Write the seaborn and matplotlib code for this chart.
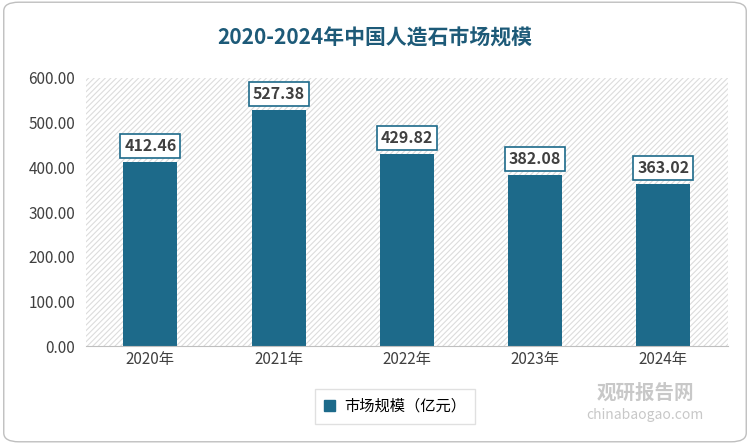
import matplotlib.pyplot as plt
import matplotlib.font_manager as fm
import seaborn as sns
import pandas as pd
from matplotlib.patches import FancyBboxPatch

cjk = [f for f in fm.findSystemFonts() if "CJK" in f or "cjk" in f.lower()]
for f in cjk:
    try:
        fm.fontManager.addfont(f)
    except Exception:
        pass
names = sorted({fm.FontProperties(fname=f).get_name() for f in cjk})
plt.rcParams['font.family'] = 'sans-serif'
plt.rcParams['font.sans-serif'] = ['Noto Sans CJK SC'] + names + ['DejaVu Sans']
plt.rcParams['axes.unicode_minus'] = False
plt.rcParams['hatch.linewidth'] = 0.8

years = ["2020年", "2021年", "2022年", "2023年", "2024年"]
values = [412.46, 527.38, 429.82, 382.08, 363.02]
series_name = "市场规模（亿元）"
bar_color = "#1d6a8a"

df = pd.DataFrame({"year": years, "value": values})

fig = plt.figure(figsize=(7.5, 4.44), dpi=100)
fig.patches.append(FancyBboxPatch((0.005, 0.005), 0.99, 0.99, boxstyle="round,pad=0,rounding_size=0.02",
                                  transform=fig.transFigure, fc="white", ec="#bfbfbf", lw=1, zorder=-10))
ax = fig.add_axes([0.115, 0.22, 0.855, 0.605])
ax.set_facecolor("white")
ax.add_patch(plt.Rectangle((0, 0), 1, 1, transform=ax.transAxes, fc="white", ec="#dcdcdc", lw=0,
                           hatch="//////", zorder=0))

sns.barplot(data=df, x="year", y="value", color=bar_color, saturation=1, width=0.42, ax=ax, zorder=2)
ax.set_ylim(0, 600)
ax.set_yticks(range(0, 601, 100))
ax.set_yticklabels([f"{v:.2f}" for v in range(0, 601, 100)], fontsize=11, color="#404040")
ax.tick_params(axis="x", labelsize=11, colors="#404040", length=0)
ax.tick_params(axis="y", length=0, pad=8)
ax.set_xlabel("")
ax.set_ylabel("")
for s in ["top", "right", "left"]:
    ax.spines[s].set_visible(False)
ax.spines["bottom"].set_color("#bfbfbf")

for i, v in enumerate(values):
    ax.text(i, v + 36, f"{v:.2f}", ha="center", va="center", fontsize=11.5, fontweight="bold",
            color="#404040", zorder=5,
            bbox=dict(boxstyle="square,pad=0.25", fc="white", ec=bar_color, lw=1.2))

fig.text(0.5, 0.915, "2020-2024年中国人造石市场规模", ha="center", va="center",
         fontsize=15, fontweight="bold", color="#1d5a78")

handle = plt.Rectangle((0, 0), 1, 1, color=bar_color)
fig.legend([handle], [series_name], loc="center", bbox_to_anchor=(0.527, 0.085), frameon=True,
           fontsize=11, handlelength=0.7, handleheight=0.7, edgecolor="#d9d9d9", fancybox=False,
           borderpad=0.6, borderaxespad=0, handletextpad=0.6, columnspacing=0,
           title=None).get_frame().set_linewidth(1)

fig.text(0.86, 0.115, "观研报告网", ha="center", va="center", fontsize=14, fontweight="bold",
         color="#c8c8c8")
fig.text(0.86, 0.065, "chinabaogao.com", ha="center", va="center", fontsize=10, color="#c8c8c8")

fig.savefig("out.png", dpi=100)
